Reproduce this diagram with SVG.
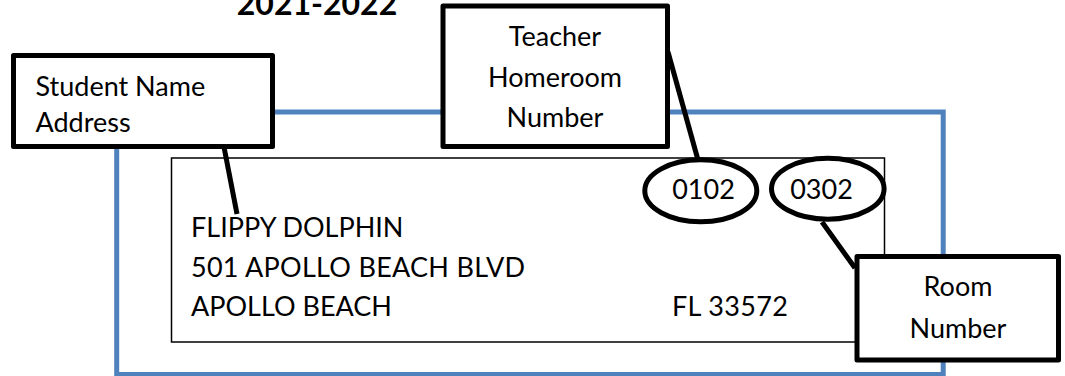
<svg xmlns="http://www.w3.org/2000/svg" width="1065" height="376" viewBox="0 0 1065 376">
<style>
text{font-family:"Lato","Open Sans","Liberation Sans",sans-serif;font-size:27px;fill:#000}
.box{fill:#fff;stroke:#000;stroke-width:5;stroke-linejoin:round}
.c{text-anchor:middle}
.lead{fill:none;stroke:#000;stroke-width:5}
.oval{fill:#fff;stroke:#000;stroke-width:5}
</style>
<rect width="1065" height="376" fill="#fff"/>
<text x="317" y="15" class="c" style="font-weight:700;font-size:32px">2021-2022</text>
<rect x="116.7" y="112" width="826.5" height="262.5" fill="none" stroke="#4f81bd" stroke-width="5"/>
<rect x="171.5" y="158" width="713" height="184" fill="none" stroke="#000" stroke-width="1.5"/>
<g id="connectors">
<path class="lead" d="M224 147L237 214"/>
<path class="lead" d="M668 52L698 160"/>
<path class="lead" d="M822 222L855 268"/>
</g>
<text x="191" y="237">FLIPPY DOLPHIN</text>
<text x="191" y="277" textLength="334">501 APOLLO BEACH BLVD</text>
<text x="191" y="316">APOLLO BEACH</text>
<text x="672" y="316" textLength="116">FL 33572</text>
<g id="student"><rect class="box" x="13.5" y="55.5" width="259" height="91"/><text x="35.5" y="96">Student Name</text><text x="35.5" y="132">Address</text></g>
<g id="teacher"><rect class="box" x="443" y="6" width="224.5" height="140.5"/><text x="555" y="46" class="c">Teacher</text><text x="555" y="87" class="c">Homeroom</text><text x="555" y="127" class="c">Number</text></g>
<g id="n0102"><ellipse class="oval" cx="700.8" cy="190.8" rx="56" ry="31"/><text x="703.5" y="198.5" class="c">0102</text></g>
<g id="n0302"><ellipse class="oval" cx="827.8" cy="188.7" rx="56.3" ry="30.5"/><text x="821.5" y="198.5" class="c">0302</text></g>
<g id="room"><rect class="box" x="857" y="256.5" width="201.5" height="103.5"/><text x="958" y="296" class="c">Room</text><text x="958" y="337.5" class="c">Number</text></g>
</svg>
